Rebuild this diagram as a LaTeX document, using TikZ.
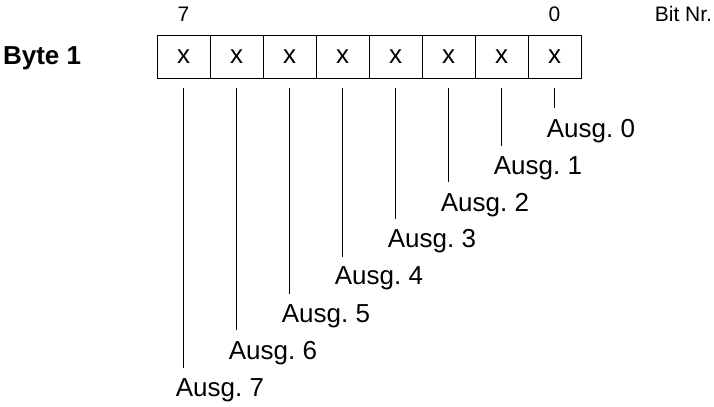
\documentclass[tikz,border=0pt]{standalone}
\usepackage{fontspec}
\setmainfont{Liberation Sans}
\frenchspacing
\usetikzlibrary{positioning}
\def\cellwidth{26.5pt}
\def\cellheight{21.5pt}
\tikzset{
    bit diagram/.style = {x=0.5pt, y=-0.5pt},
    line/.style        = {line width=0.5pt},
    cell/.style        = {draw, line width=0.5pt, inner sep=0pt,
                          minimum width=\cellwidth, minimum height=\cellheight,
                          font=\fontsize{13}{15}\selectfont},
    bitnum/.style      = {inner sep=0pt, font=\fontsize{10.5}{12}\selectfont},
    bytename/.style    = {inner sep=0pt, font=\fontsize{13}{15}\selectfont\bfseries},
    output/.style      = {inner xsep=0pt, inner ysep=5pt,
                          font=\fontsize{13}{15}\selectfont}
}

\begin{document}
\begin{tikzpicture}[bit diagram]
\useasboundingbox (0,0) rectangle (714,407);

% One cell per bit, bit 0 on the right.
\foreach \k in {0,...,7}
    \node[cell] (bit\k) at (554.5-53*\k, 56.5) {x};
\node[bitnum, above=6.25pt of bit7] (nr7) {7};
\node[bitnum, above=6.25pt of bit0] (nr0) {0};
\node[bitnum, anchor=base west] (bitnr) at ([xshift=50pt]nr0.base) {Bit Nr.};
\node[bytename, left=37.5pt of bit7, yshift=-1pt] (byte) {Byte 1};

% Output labels step down to the left.
\foreach \k in {0,...,7} {
    \node[output, anchor=base west] (out\k)
        at (546.5-53*\k, 137+37*\k) {Ausg.\ \k};
    \draw[line] ([yshift=-4.5pt]bit\k.south) -- (bit\k.south |- out\k.north);
}

\end{tikzpicture}
\end{document}
